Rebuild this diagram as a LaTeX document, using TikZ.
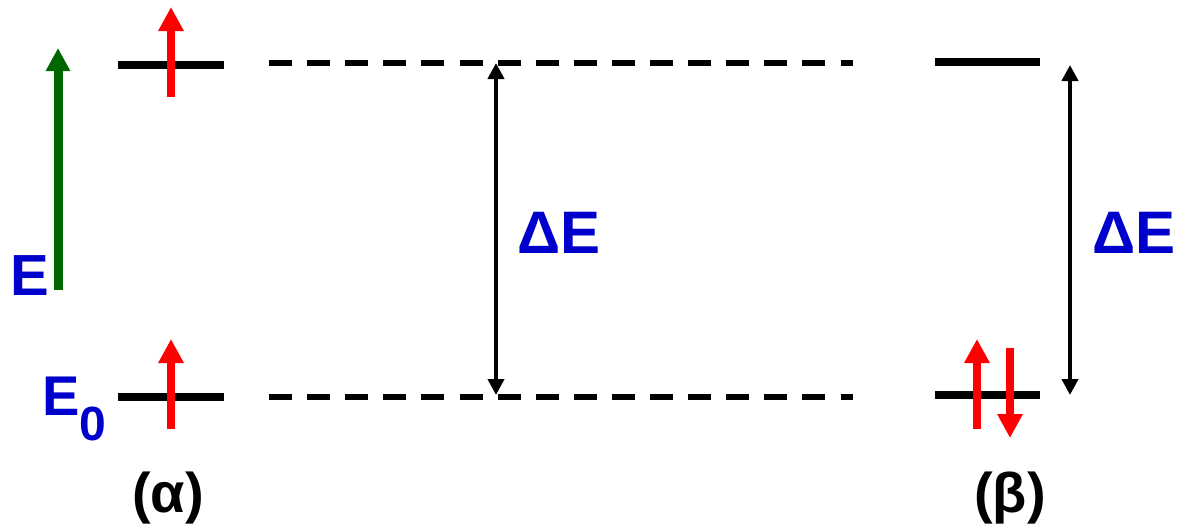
\documentclass[tikz,border=0pt]{standalone}
\usepackage{fontspec}
\setmainfont{Liberation Sans}
\usepackage{xcolor}
\definecolor{lvlblue}{HTML}{0000CC}
\definecolor{fieldgreen}{HTML}{006600}
\definecolor{spinred}{HTML}{FF0000}
\usetikzlibrary{arrows.meta}

\begin{document}
\begin{tikzpicture}[x=0.5pt, y=-0.5pt,
  level/.style={black, line width=4pt},
  spin/.style={spinred, line width=4pt, -{Triangle[length=12pt, width=12pt]}},
  guide/.style={black, line width=2.7pt, dash pattern=on 11.5pt off 7.55pt},
  gap/.style={black, line width=2pt, {Triangle[length=8pt, width=8pt]}-{Triangle[length=8pt, width=8pt]}},
  lbl/.style={inner sep=0pt, anchor=base, text=lvlblue, font=\bfseries\fontsize{30}{30}\selectfont},
  tag/.style={inner sep=0pt, anchor=base, font=\bfseries\fontsize{28}{28}\selectfont}]
  \useasboundingbox (0,0) rectangle (1185,525);

  % energy axis
  \coordinate (axlo) at (58,290);
  \coordinate (axhi) at (58,48);
  \draw[fieldgreen, line width=4.5pt, -{Triangle[length=11.5pt, width=11.5pt]}] (axlo) -- (axhi);
  \node[lbl, anchor=base west, font=\bfseries\fontsize{29}{29}\selectfont] (elbl) at (10,295) {E};

  % state (alpha): one spin in each level
  \coordinate (ahiL) at (118,65);  \coordinate (ahiR) at (224,65);
  \coordinate (aloL) at (118,397); \coordinate (aloR) at (224,397);
  \draw[level] (ahiL) -- (ahiR);
  \draw[level] (aloL) -- (aloR);
  \coordinate (sa1) at (171,97);  \coordinate (sa1t) at (171,7);
  \coordinate (sa2) at (171,429); \coordinate (sa2t) at (171,339);
  \draw[spin] (sa1) -- (sa1t);
  \draw[spin] (sa2) -- (sa2t);
  \node[lbl, anchor=base west, font=\bfseries\fontsize{28}{28}\selectfont] (e0lbl) at (42,415)
    {E\raisebox{-12.5pt}{\fontsize{24}{24}\selectfont 0}};
  \node[tag] (alpha) at (168,512) {(α)};

  % guide lines
  \coordinate (dhiL) at (269,63);  \coordinate (dhiR) at (853,63);
  \coordinate (dloL) at (269,397); \coordinate (dloR) at (853,397);
  \draw[guide] (dhiL) -- (dhiR);
  \draw[guide] (dloL) -- (dloR);
  \coordinate (g1hi) at (496,63); \coordinate (g1lo) at (496,395);
  \draw[gap] (g1hi) -- (g1lo);
  \node[lbl] (de1) at (559,253) {ΔE};

  % state (beta): paired spins in the lower level
  \coordinate (bhiL) at (935,62);  \coordinate (bhiR) at (1040,62);
  \coordinate (bloL) at (935,395); \coordinate (bloR) at (1040,395);
  \draw[level] (bhiL) -- (bhiR);
  \draw[level] (bloL) -- (bloR);
  \coordinate (sb1) at (977,429);  \coordinate (sb1t) at (977,339);
  \coordinate (sb2) at (1010,348); \coordinate (sb2t) at (1010,438);
  \draw[spin] (sb1) -- (sb1t);
  \draw[spin] (sb2) -- (sb2t);
  \coordinate (g2hi) at (1070,65); \coordinate (g2lo) at (1070,395);
  \draw[gap] (g2hi) -- (g2lo);
  \node[lbl] (de2) at (1134,253) {ΔE};
  \node[tag] (beta) at (1010,512) {(β)};
\end{tikzpicture}
\end{document}
